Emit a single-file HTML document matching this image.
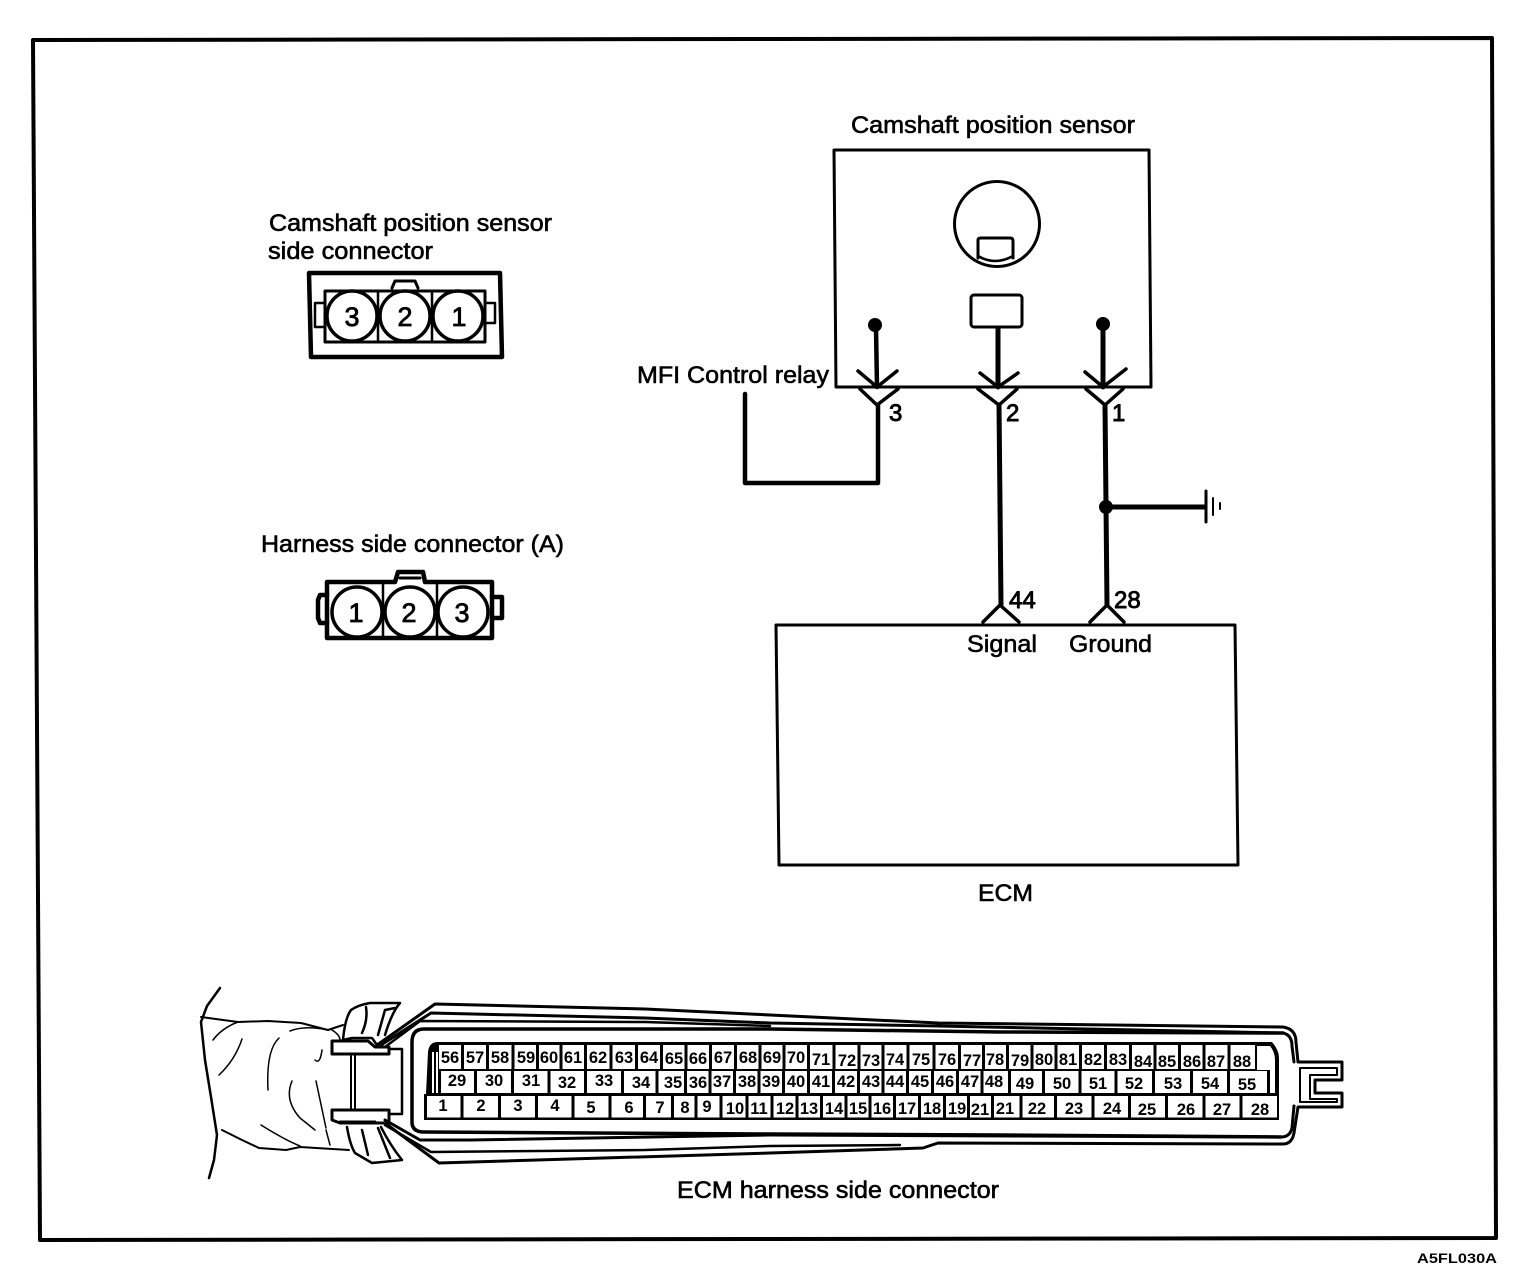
<!DOCTYPE html>
<html><head><meta charset="utf-8"><title>Camshaft position sensor</title>
<style>
html,body{margin:0;padding:0;background:#fff}
svg{display:block}
text{font-family:"Liberation Sans",sans-serif;fill:#000;stroke:#000;stroke-width:.6}
.l{font-size:24px}
.n{font-size:24px;stroke-width:.9}
.p{font-size:16.5px;font-weight:bold;text-anchor:middle;stroke:none}
.c{font-size:27px;text-anchor:middle;stroke-width:.8}
</style></head><body>
<svg width="1536" height="1286" viewBox="0 0 1536 1286" xmlns="http://www.w3.org/2000/svg">
<g fill="none" stroke="#000" stroke-linejoin="round" stroke-linecap="round">
<!-- frame -->
<path d="M33 40L1492 38L1496 1238L40 1240Z" stroke-width="4"/>
<!-- sensor box -->
<path d="M834 150H1149L1151 387H836Z" stroke-width="3"/>
<circle cx="997" cy="224" r="42.5" stroke-width="3"/>
<path d="M978 258V240Q978 238 981 238H1010Q1013 238 1013 241V258" stroke-width="3"/>
<path d="M978 256Q995 266 1013 256" stroke-width="2.5"/>
<rect x="971" y="295" width="51" height="32" rx="3" stroke-width="3"/>
<!-- pin 3 -->
<circle cx="875" cy="325" r="7" fill="#000" stroke="none"/>
<path d="M876 328L877 387M878 405V483H745V394" stroke-width="4.5"/>
<path d="M858 371L877 387L897 371M860 389L877 405L898 389" stroke-width="3.5"/>
<!-- pin 2 -->
<path d="M998 328V387M999 405L1001 605" stroke-width="5"/>
<path d="M980 373L998 387L1018 373M978 389L999 405L1017 389M983 622L1000 605L1019 622" stroke-width="3.5"/>
<!-- pin 1 -->
<circle cx="1103" cy="324" r="7" fill="#000" stroke="none"/>
<circle cx="1106" cy="507" r="7" fill="#000" stroke="none"/>
<path d="M1103 326V387M1105 405L1107 605M1106 507H1205" stroke-width="5"/>
<path d="M1085 372L1103 387L1126 369M1086 389L1105 405L1123 389M1090 622L1107 605L1124 622" stroke-width="3.5"/>
<path d="M1206 491V522" stroke-width="3"/><path d="M1213 498V515M1220 503V509" stroke-width="2"/>
<!-- ECM box -->
<path d="M776 625H1235L1238 865H779Z" stroke-width="3"/>
<!-- connector 1 -->
<path d="M309 273H500L502 357H311Z" stroke-width="4.5"/>
<path d="M325 291H485V342H325Z" stroke-width="3"/>
<path d="M392 288L395 281H415L418 288" stroke-width="3"/>
<path d="M325 303H315V327H325M487 303H495V323H487" stroke-width="2.5"/>
<path d="M378 291V342M432 291V342" stroke-width="2.5"/>
<g stroke-width="3.5" fill="#fff"><circle cx="352" cy="316" r="25"/><circle cx="405" cy="316" r="25"/><circle cx="458" cy="316" r="25"/></g>
<!-- connector 2 -->
<path d="M327 582H395L398 572H423L425 582H492V638H327Z" stroke-width="4.5"/>
<path d="M400 578H420" stroke-width="3"/>
<path d="M327 595H320L318 600V618L320 623H327" stroke-width="4.5"/>
<path d="M492 597H502V618H492" stroke-width="4.5"/>
<path d="M383 582V638M437 582V638" stroke-width="2.5"/>
<g stroke-width="3.5" fill="#fff"><circle cx="357" cy="612" r="25"/><circle cx="410" cy="612" r="25"/><circle cx="463" cy="612" r="25"/></g>
<!-- hose -->
<path d="M220 988L207 1006L201 1022L205 1060L211 1097L217 1135L214 1160L209 1178" stroke-width="2.5"/>
<path d="M201 1017L238 1022L268 1021L301 1023L328 1030L343 1025" stroke-width="2"/>
<path d="M222 1130L242 1140L259 1148L286 1150L300 1147L349 1150" stroke-width="2"/>
<path d="M213 1040Q222 1028 238 1022M290 1031Q305 1025 328 1030M242 1039Q235 1060 219 1075M279 1038Q266 1050 268 1090M322 1050Q320 1065 315 1060M316 1081Q320 1100 326 1128M292 1081Q284 1100 300 1118L315 1130M261 1125Q285 1140 300 1146M326 1130L330 1145" stroke-width="1.5"/>
<path d="M332 1030Q340 1035 340 1040" stroke-width="1.5"/>
<!-- rings -->
<path d="M343 1040Q345 1018 351 1010Q358 1005 370 1003H400Q392 1012 385 1035M366 1007Q368 1020 362 1033M395 1008L385 1010L378 1035" stroke-width="2.5"/>
<path d="M347 1127Q350 1145 355 1153L372 1163L402 1160Q390 1145 381 1127M362 1130L368 1155M378 1128L390 1158" stroke-width="2.5"/>
<path d="M343 1040L352 1038H372L377 1045" stroke-width="2.5"/>
<!-- clips -->
<path d="M332 1041H368L375 1047H389V1054H332Z" stroke-width="3" fill="#fff"/>
<path d="M332 1110H389V1123H340L332 1120Z" stroke-width="3" fill="#fff"/>
<path d="M340 1122H375" stroke-width="3"/>
<path d="M351 1055V1109M355 1055V1109" stroke-width="2"/>
<path d="M389 1049H402V1114H389" stroke-width="2.5"/>
<!-- connector shell -->
<path d="M377 1045L435 1004L645 1009L770 1015L938 1023L1283 1027Q1296 1029 1296 1042L1298 1062H1342V1080H1315V1093H1342V1107H1298L1294 1133Q1292 1144 1283 1144L938 1143L923 1148L770 1153L439 1163L385 1123" stroke-width="3"/>
<path d="M381 1045L431 1013L645 1018L770 1023L938 1026L1283 1033Q1292 1035 1292 1046L1294 1062M1294 1106L1292 1128Q1290 1137 1281 1137L770 1135L470 1140L420 1140L385 1120" stroke-width="3"/>
<path d="M385 1047L420 1021L645 1022L770 1026M385 1125L431 1152L645 1150L770 1146L900 1145" stroke-width="2.5"/>
<path d="M424 1029H770L1000 1032L1283 1033M412 1042Q412 1029 424 1029M412 1042V1122Q412 1132 424 1132L770 1134L1000 1135L1281 1137" stroke-width="3.5"/>
<path d="M1300 1068H1337V1075H1310V1099H1337V1102H1300Z" stroke-width="2"/>
<!-- pin field -->
<path d="M1258 1042L1272 1042Q1279 1050 1279 1058V1120H424V1094H426L428 1052Q429 1042 438 1042Z" fill="#000" stroke="none"/>
</g>
<g fill="#fff">
<rect x="439" y="1045" width="816" height="24"/>
<rect x="441" y="1071" width="826" height="22"/>
<rect x="427" y="1096" width="850" height="21.5"/>
<path d="M1257 1046H1270Q1275 1052 1275 1060V1070H1257Z"/>
<rect x="1270" y="1068" width="5" height="25"/>
<rect x="432" y="1052" width="2" height="41"/>
<rect x="436" y="1052" width="2" height="41"/>
</g>
<path fill="none" stroke="#000" stroke-width="3" d="M462.5 1044V1070M487.5 1044V1070M513 1044V1070M537.5 1044V1070M561 1044V1070M585.5 1044V1070M611 1044V1070M636.5 1044V1070M661.5 1044V1070M686 1044V1070M710.5 1044V1070M735.5 1044V1070M760 1044V1070M784 1044V1070M808.5 1044V1070M834 1044V1070M859 1044V1070M883 1044V1070M908 1044V1070M934 1044V1070M959.5 1044V1070M983.5 1044V1070M1007.5 1044V1070M1032 1044V1070M1056 1044V1070M1080.5 1044V1070M1105.5 1044V1070M1130.5 1044V1070M1155 1044V1070M1179.5 1044V1070M1204 1044V1070M1229 1044V1070
M475.5 1070V1094M512.5 1070V1094M549 1070V1094M585.5 1070V1094M622.5 1070V1094M657 1070V1094M685.5 1070V1094M710 1070V1094M734.5 1070V1094M759 1070V1094M783.5 1070V1094M808.5 1070V1094M833.5 1070V1094M858.5 1070V1094M883 1070V1094M907.5 1070V1094M932.5 1070V1094M957.5 1070V1094M982 1070V1094M1009.5 1070V1094M1043.5 1070V1094M1080 1070V1094M1116 1070V1094M1153.5 1070V1094M1191.5 1070V1094M1228.5 1070V1094
M462 1094V1118M499.5 1094V1118M536.5 1094V1118M573 1094V1118M610 1094V1118M644.5 1094V1118M672.5 1094V1118M696 1094V1118M721 1094V1118M747 1094V1118M772 1094V1118M797 1094V1118M821.5 1094V1118M846 1094V1118M870 1094V1118M894.5 1094V1118M919.5 1094V1118M944.5 1094V1118M968.5 1094V1118M992.5 1094V1118M1021 1094V1118M1055.5 1094V1118M1093 1094V1118M1129.5 1094V1118M1166.5 1094V1118M1204 1094V1118M1241 1094V1118"/>
<!-- pin numbers -->
<g transform="translate(0,1)">
<text class="p" x="450" y="1062">56</text><text class="p" x="475" y="1062">57</text><text class="p" x="500" y="1062">58</text><text class="p" x="526" y="1062">59</text><text class="p" x="549" y="1062">60</text><text class="p" x="573" y="1062">61</text><text class="p" x="598" y="1062">62</text><text class="p" x="624" y="1062">63</text><text class="p" x="649" y="1062">64</text><text class="p" x="674" y="1063">65</text><text class="p" x="698" y="1063">66</text><text class="p" x="723" y="1062">67</text><text class="p" x="748" y="1062">68</text><text class="p" x="772" y="1062">69</text><text class="p" x="796" y="1062">70</text><text class="p" x="821" y="1064">71</text><text class="p" x="847" y="1065">72</text><text class="p" x="871" y="1065">73</text><text class="p" x="895" y="1064">74</text><text class="p" x="921" y="1064">75</text><text class="p" x="947" y="1064">76</text><text class="p" x="972" y="1065">77</text><text class="p" x="995" y="1064">78</text><text class="p" x="1020" y="1065">79</text><text class="p" x="1044" y="1064">80</text><text class="p" x="1068" y="1064">81</text><text class="p" x="1093" y="1064">82</text><text class="p" x="1118" y="1064">83</text><text class="p" x="1143" y="1066">84</text><text class="p" x="1167" y="1066">85</text><text class="p" x="1192" y="1066">86</text><text class="p" x="1216" y="1066">87</text><text class="p" x="1242" y="1066">88</text>
</g>
<g>
<text class="p" x="457" y="1086">29</text><text class="p" x="494" y="1086">30</text><text class="p" x="531" y="1086">31</text><text class="p" x="567" y="1088">32</text><text class="p" x="604" y="1086">33</text><text class="p" x="641" y="1088">34</text><text class="p" x="673" y="1088">35</text><text class="p" x="698" y="1088">36</text><text class="p" x="722" y="1087">37</text><text class="p" x="747" y="1087">38</text><text class="p" x="771" y="1087">39</text><text class="p" x="796" y="1087">40</text><text class="p" x="821" y="1087">41</text><text class="p" x="846" y="1087">42</text><text class="p" x="871" y="1087">43</text><text class="p" x="895" y="1087">44</text><text class="p" x="920" y="1087">45</text><text class="p" x="945" y="1087">46</text><text class="p" x="970" y="1087">47</text><text class="p" x="994" y="1087">48</text><text class="p" x="1025" y="1089">49</text><text class="p" x="1062" y="1089">50</text><text class="p" x="1098" y="1089">51</text><text class="p" x="1134" y="1089">52</text><text class="p" x="1173" y="1089">53</text><text class="p" x="1210" y="1089">54</text><text class="p" x="1247" y="1090">55</text>
<text class="p" x="443" y="1111">1</text><text class="p" x="481" y="1111">2</text><text class="p" x="518" y="1111">3</text><text class="p" x="555" y="1111">4</text><text class="p" x="591" y="1113">5</text><text class="p" x="629" y="1113">6</text><text class="p" x="660" y="1113">7</text><text class="p" x="685" y="1113">8</text><text class="p" x="707" y="1112">9</text><text class="p" x="735" y="1114">10</text><text class="p" x="759" y="1114">11</text><text class="p" x="785" y="1114">12</text><text class="p" x="809" y="1114">13</text><text class="p" x="834" y="1114">14</text><text class="p" x="858" y="1114">15</text><text class="p" x="882" y="1114">16</text><text class="p" x="907" y="1114">17</text><text class="p" x="932" y="1114">18</text><text class="p" x="957" y="1114">19</text><text class="p" x="980" y="1115">21</text><text class="p" x="1005" y="1114">21</text><text class="p" x="1037" y="1114">22</text><text class="p" x="1074" y="1114">23</text><text class="p" x="1112" y="1114">24</text><text class="p" x="1147" y="1115">25</text><text class="p" x="1186" y="1115">26</text><text class="p" x="1222" y="1115">27</text><text class="p" x="1260" y="1115">28</text>
</g>
<!-- labels -->
<text class="l" x="851" y="133" textLength="284" lengthAdjust="spacingAndGlyphs">Camshaft position sensor</text>
<text class="l" x="269" y="231" textLength="283" lengthAdjust="spacingAndGlyphs">Camshaft position sensor</text>
<text class="l" x="268" y="259" textLength="165" lengthAdjust="spacingAndGlyphs">side connector</text>
<text class="l" x="261" y="552" textLength="303" lengthAdjust="spacingAndGlyphs">Harness side connector (A)</text>
<text class="l" x="637" y="383" textLength="192" lengthAdjust="spacingAndGlyphs">MFI Control relay</text>
<text class="n" x="889" y="421">3</text><text class="n" x="1006" y="421">2</text><text class="n" x="1112" y="421">1</text>
<text class="n" x="1009" y="608">44</text><text class="n" x="1114" y="608">28</text>
<text class="l" x="967" y="652" textLength="70" lengthAdjust="spacingAndGlyphs">Signal</text>
<text class="l" x="1069" y="652" textLength="83" lengthAdjust="spacingAndGlyphs">Ground</text>
<text class="l" x="978" y="901" textLength="55" lengthAdjust="spacingAndGlyphs">ECM</text>
<text class="l" x="677" y="1198" textLength="322" lengthAdjust="spacingAndGlyphs">ECM harness side connector</text>
<text class="c" x="352" y="326">3</text><text class="c" x="405" y="326">2</text><text class="c" x="459" y="326">1</text>
<text class="c" x="356" y="622">1</text><text class="c" x="409" y="622">2</text><text class="c" x="462" y="622">3</text>
<text x="1417" y="1263" font-size="14" font-weight="bold" textLength="80" lengthAdjust="spacingAndGlyphs" style="stroke:none">A5FL030A</text>
</svg>
</body></html>
